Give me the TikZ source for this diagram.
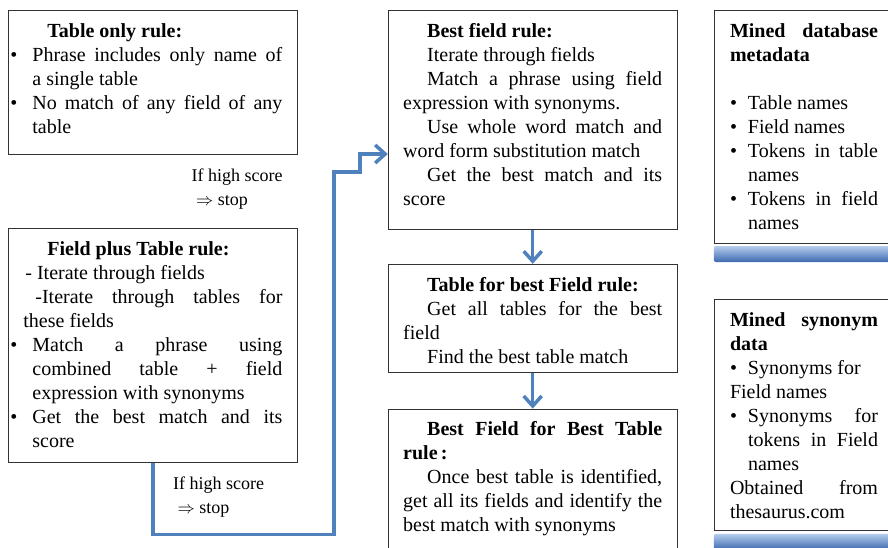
\documentclass[tikz,border=0pt]{standalone}
\usepackage{fontspec}
\setmainfont{Liberation Serif}
\usetikzlibrary{positioning,arrows.meta,calc}
\definecolor{flowblue}{HTML}{4F81BD}
\definecolor{boxline}{HTML}{333333}
\definecolor{barlight}{HTML}{B4CDEE}
\definecolor{barmid}{HTML}{5F8FD4}
\definecolor{bardark}{HTML}{3D69AE}
% fixed-size box body: text starts at the top, justified
\newcommand{\rulebody}[3]{\parbox[c][#2][t]{#1}{\setlength{\parindent}{24pt}\setlength{\parskip}{0pt}%
  \hyphenpenalty=10000\tolerance=10000\vspace*{10pt}#3}}
% bullet item: #1 bullet offset, #2 text offset from the margin
\newcommand{\bitem}[3]{\par\noindent\hangindent=#2\hangafter=1\hspace*{#1}%
  \makebox[\dimexpr#2-(#1)\relax][l]{\textbullet}\ignorespaces#3\par}
\tikzset{
  rulebox/.style={draw=boxline, line width=0.8pt, inner xsep=15pt, inner ysep=0pt,
                  anchor=north west, font=\fontsize{20}{24}\selectfont},
  minedbox/.style={rulebox, inner xsep=16pt},
  dbbar/.style={draw=none, inner sep=0pt, minimum width=180pt, minimum height=16pt,
                rounded corners=2pt, top color=barlight, middle color=barmid,
                bottom color=bardark},
  flow/.style={draw=flowblue, line width=3.5pt,
               -{Straight Barb[length=10pt,width=18pt]}},
  note/.style={align=left, inner sep=0pt, font=\fontsize{18}{24}\selectfont},
}

\begin{document}
\begin{tikzpicture}[x=1pt, y=1pt]
\useasboundingbox (0,0) rectangle (888,-547);

% ---------------------------------------------------------------- left column
\node[rulebox] (tor) at (8,-10) {\rulebody{259pt}{144pt}{%
  \strut\textbf{Table only rule:}\par
  \bitem{-13pt}{9pt}{Phrase includes only name of\linebreak a single table}
  \bitem{-13pt}{9pt}{No match of any field of any\linebreak table}}};

\node[rulebox, below=73pt of tor.south west, anchor=north west] (fpt) {\rulebody{259pt}{234pt}{%
  \strut\textbf{Field plus Table rule:}\par
  \noindent\hspace*{2pt}- Iterate through fields\par
  \noindent\hspace*{12pt}-Iterate through tables for\linebreak these fields\par
  \bitem{-13pt}{9pt}{Match a phrase using\linebreak combined table + field\linebreak expression with synonyms}
  \bitem{-13pt}{9pt}{Get the best match and its\linebreak score}}};

\node[note, below=10pt of tor.south east, anchor=north east, xshift=-15pt] (stop1)
  {\strut If high score\\\ $\Rightarrow$ stop};
\node[note, below=10pt of fpt.south, anchor=north west, xshift=20pt] (stop2)
  {\strut If high score\\\ $\Rightarrow$ stop};

% ---------------------------------------------------------------- middle column
\node[rulebox, right=90pt of tor.north east, anchor=north west] (bfr) {\rulebody{259pt}{219pt}{%
  \strut\textbf{Best field rule:}\par
  Iterate through fields\par
  Match a phrase using field\linebreak expression with synonyms.\par
  Use whole word match and\linebreak word form substitution match\par
  Get the best match and its\linebreak score}};

\node[rulebox, below=34pt of bfr.south west, anchor=north west] (tbf) {\rulebody{259pt}{108pt}{%
  \strut\textbf{Table for best Field rule:}\par
  Get all tables for the best\linebreak field\par
  Find the best table match}};

\node[rulebox, below=36pt of tbf.south west, anchor=north west] (bfbt) {\rulebody{259pt}{153pt}{%
  \strut\textbf{Best Field for Best Table\linebreak rule\,:}\par
  Once best table is identified,\linebreak get all its fields and identify the\linebreak best match with synonyms}};

% ---------------------------------------------------------------- mined data
\node[minedbox, right=36pt of bfr.north east, anchor=north west] (minedb) {\rulebody{148pt}{233pt}{%
  \noindent\strut\textbf{Mined database\linebreak metadata}\par
  \noindent\strut\par
  \bitem{0pt}{18pt}{Table names}
  \bitem{0pt}{18pt}{Field names}
  \bitem{0pt}{18pt}{Tokens in table\linebreak names}
  \bitem{0pt}{18pt}{Tokens in field\linebreak names}}};
\node[dbbar, below=2pt of minedb.south west, anchor=north west] (dbbarA) {};

\node[minedbox, below=55pt of minedb.south west, anchor=north west] (minesyn) {\rulebody{148pt}{231pt}{%
  \noindent\strut\textbf{Mined synonym\linebreak data}\par
  \noindent\makebox[18pt][l]{\textbullet}Synonyms for\\Field names\par
  \bitem{0pt}{18pt}{Synonyms for\linebreak tokens in Field\linebreak names}
  \noindent Obtained from\linebreak thesaurus.com\par}};
\node[dbbar, below=3pt of minesyn.south west, anchor=north west] (dbbarB) {};

% ---------------------------------------------------------------- connectors
\coordinate (jogA) at (334,-172);
\coordinate (jogB) at (360,-154);
\draw[flow] (fpt.south) -- ++(0,-72) -| (jogA) -- (jogA -| jogB) |- (bfr.west |- jogB);
\draw[flow] (bfr.south) -- (tbf.north);
\draw[flow] (tbf.south) -- (bfbt.north);

\end{tikzpicture}
\end{document}
